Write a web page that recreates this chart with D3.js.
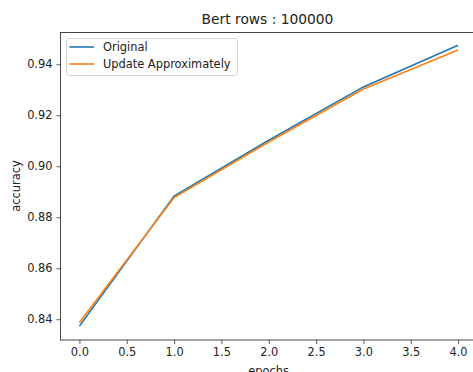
<!DOCTYPE html>
<html><head><meta charset="utf-8">
<script src="https://cdn.jsdelivr.net/npm/d3@7"></script>
<style>body{margin:0;background:#fff;} svg{display:block;font-family:"DejaVu Sans",sans-serif;}</style>
</head><body>
<svg id="c" width="473" height="372"></svg>
<script>
const epochs = [0, 1, 2, 3, 4];
const original = [0.8373, 0.8883, 0.9102, 0.9311, 0.9474];
const approx = [0.8387, 0.8877, 0.9095, 0.9303, 0.9456];
const xTicks = [0, 0.5, 1, 1.5, 2, 2.5, 3, 3.5, 4];
const yTicks = [0.84, 0.86, 0.88, 0.90, 0.92, 0.94];
const seriesNames = ["Original", "Update Approximately"];
const colors = ["#1f77b4", "#ff7f0e"];

const svg = d3.select("#c");
const L = 60.5, R = 477, T = 32.5, B = 340;
const x = d3.scaleLinear().domain([-0.2, 4.2]).range([L, R]);
const y = d3.scaleLinear().domain([0.83186, 0.95244]).range([B, T]);

const gx = svg.append("g").attr("transform", `translate(0,${B})`)
  .call(d3.axisBottom(x).tickValues(xTicks).tickFormat(d3.format(".1f")).tickSize(4).tickPadding(4));
const gy = svg.append("g").attr("transform", `translate(${L},0)`)
  .call(d3.axisLeft(y).tickValues(yTicks).tickFormat(d3.format(".2f")).tickSize(4).tickPadding(4));
[gx, gy].forEach(g => {
  g.select(".domain").remove();
  g.selectAll("line").attr("stroke", "#333").attr("stroke-width", 0.8);
  g.selectAll("text").attr("font-size", 11.4).attr("fill", "#222").attr("font-family", "DejaVu Sans");
});
// spines
svg.append("rect").attr("x", L).attr("y", T).attr("width", R - L).attr("height", B - T)
  .attr("fill", "none").attr("stroke", "#333").attr("stroke-width", 0.9);

const line = d3.line().x((d, i) => x(epochs[i])).y(d => y(d));
[original, approx].forEach((s, k) => {
  svg.append("path").datum(s).attr("d", line).attr("fill", "none")
    .attr("stroke", colors[k]).attr("stroke-width", 1.6);
});

svg.append("text").attr("x", 267.5).attr("y", 24).attr("text-anchor", "middle")
  .attr("font-size", 13.8).attr("fill", "#222").text("Bert rows : 100000");
svg.append("text").attr("x", 268.5).attr("y", 375).attr("text-anchor", "middle")
  .attr("font-size", 11.4).attr("fill", "#222").text("epochs");
svg.append("text").attr("transform", "translate(19.5,186) rotate(-90)").attr("text-anchor", "middle")
  .attr("font-size", 11.4).attr("fill", "#222").text("accuracy");

// legend
const lg = svg.append("g");
lg.append("rect").attr("x", 66.5).attr("y", 38.5).attr("width", 171).attr("height", 37).attr("rx", 2)
  .attr("fill", "#fff").attr("fill-opacity", 0.8).attr("stroke", "#ccc").attr("stroke-width", 0.8);
seriesNames.forEach((n, k) => {
  const yy = 47 + k * 17;
  lg.append("line").attr("x1", 69.5).attr("x2", 94).attr("y1", yy).attr("y2", yy)
    .attr("stroke", colors[k]).attr("stroke-width", 1.6);
  lg.append("text").attr("x", 103).attr("y", yy + 4).attr("font-size", 11.4).attr("fill", "#222").text(n);
});
</script>
</body></html>
